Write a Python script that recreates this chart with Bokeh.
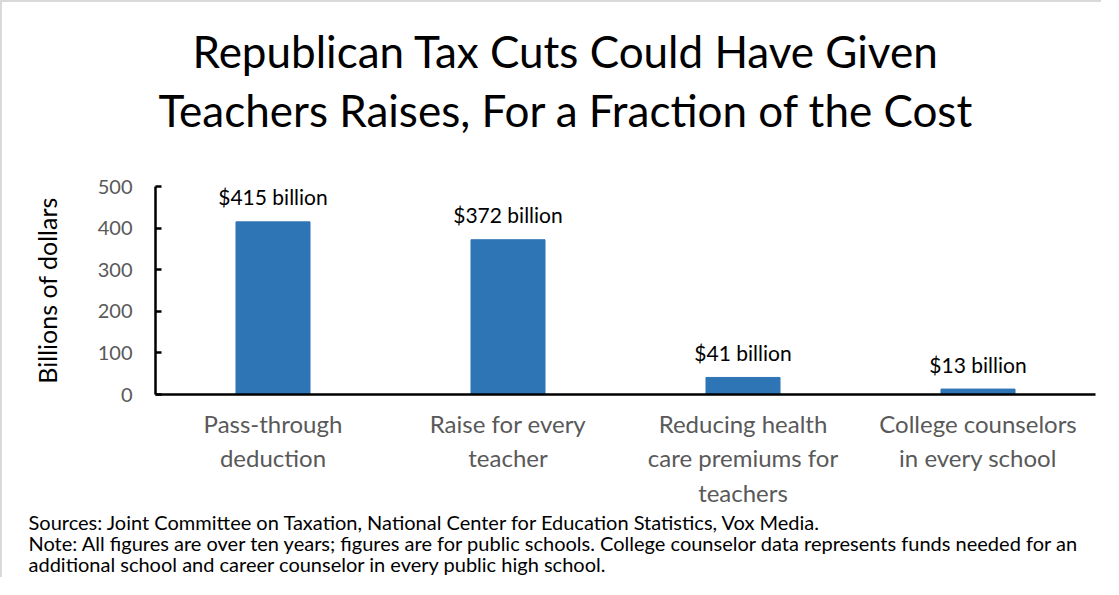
from bokeh.plotting import figure
from bokeh.models import FactorRange, Range1d, Title, FixedTicker
from bokeh.core.properties import value
from bokeh.embed import file_html
from bokeh.resources import INLINE

categories = [
    "Pass-through\ndeduction",
    "Raise for every\nteacher",
    "Reducing health\ncare premiums for\nteachers",
    "College counselors\nin every school",
]
values = [415, 372, 41, 13]
bar_labels = ["$415 billion", "$372 billion", "$41 billion", "$13 billion"]
y_ticks = [0, 100, 200, 300, 400, 500]
title_lines = [
    "Republican Tax Cuts Could Have Given",
    "Teachers Raises, For a Fraction of the Cost",
]
y_axis_title = "Billions of dollars"
footnote_lines = [
    "Sources: Joint Committee on Taxation, National Center for Education Statistics, Vox Media.",
    "Note: All figures are over ten years; figures are for public schools. College counselor data represents funds needed for an",
    "additional school and career counselor in every public high school.",
]

FONT = "Lato"
W, H = 1101, 577
FL, FR, FT, FB = 153, 1093, 184, 392  # frame edges in canvas pixels

p = figure(
    width=W, height=H,
    x_range=FactorRange(factors=categories),
    y_range=Range1d(0, 500),
    output_backend="svg", toolbar_location=None,
    min_border_left=FL, min_border_right=W - FR,
    min_border_top=FT, min_border_bottom=H - FB,
)
p.styles = {"border-top": "2px solid #d9d9d9", "border-left": "2px solid #d9d9d9"}
p.outline_line_color = None
p.xgrid.grid_line_color = None
p.ygrid.grid_line_color = None
p.background_fill_color = "white"
p.border_fill_color = "white"

p.vbar(x=categories, top=values, width=0.315, fill_color="#2E75B6", line_color="#2E75B6")
p.text(x=categories, y=values, text=bar_labels, y_offset=-25,
       text_align="center", text_baseline="middle",
       text_font=value(FONT), text_font_size="21px", text_color="black")

# y axis
ya = p.yaxis[0]
ya.ticker = FixedTicker(ticks=y_ticks)
ya.axis_line_color = "black"
ya.axis_line_width = 2.5
ya.major_tick_in = 6
ya.major_tick_out = 0
ya.major_tick_line_width = 2.5
ya.major_tick_line_color = "black"
ya.minor_tick_line_color = None
ya.major_label_text_font = FONT
ya.major_label_text_font_size = "20px"
ya.major_label_text_color = "#595959"
ya.major_label_standoff = 23
ya.axis_label = y_axis_title
ya.axis_label_text_font = FONT
ya.axis_label_text_font_size = "25px"
ya.axis_label_text_font_style = "normal"
ya.axis_label_text_color = "black"
ya.axis_label_standoff = 33

# x axis
xa = p.xaxis[0]
xa.axis_line_color = "black"
xa.axis_line_width = 2.5
xa.major_tick_line_color = None
xa.major_tick_out = 0
xa.major_tick_in = 0
xa.minor_tick_line_color = None
xa.major_label_text_font = FONT
xa.major_label_text_font_size = "24px"
xa.major_label_text_color = "#595959"
xa.major_label_standoff = 14
xa.major_label_orientation = "horizontal"

# spacer between frame and title
p.add_layout(Title(text=" ", text_font_size="10px", standoff=35), "above")
# title lines (nearest-to-frame first)
for line, off in zip(reversed(title_lines), [3, 37]):
    p.add_layout(Title(text=line, align="left", offset=off, standoff=5,
                       text_font=FONT, text_font_size="44px", text_font_style="normal",
                       text_color="black"), "above")

# footnotes
for line in footnote_lines:
    p.add_layout(Title(text=line, align="left", offset=26 - FL, standoff=-5,
                       text_font=FONT, text_font_size="20px", text_font_style="normal",
                       text_color="black"), "below")

open("out.html", "w").write(file_html(p, INLINE))
